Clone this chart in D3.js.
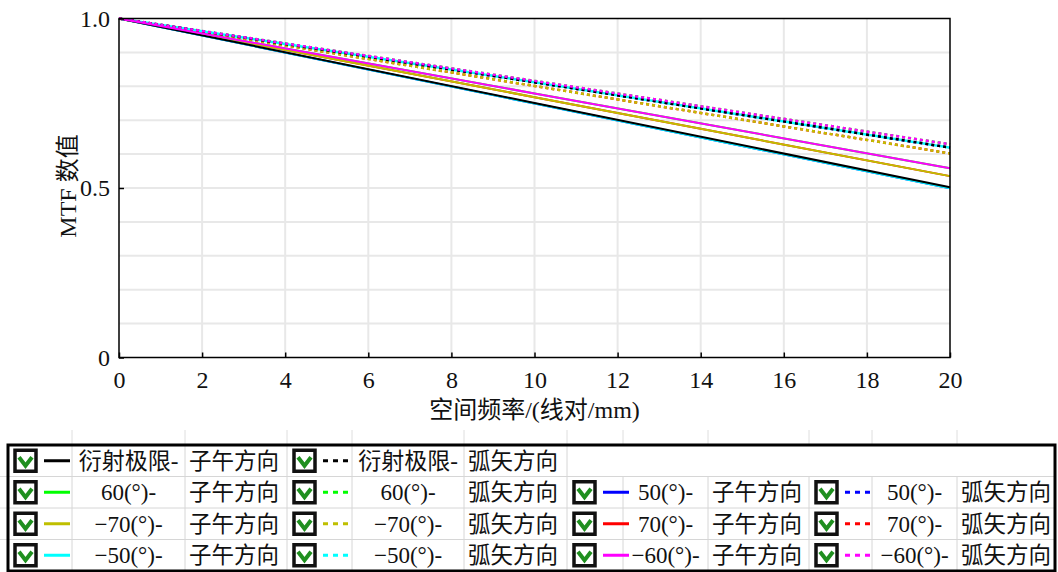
<!DOCTYPE html>
<html>
<head>
<meta charset="utf-8">
<script src="https://cdn.jsdelivr.net/npm/d3@7"></script>
<style>
  body { margin: 0; background: #fff; }
  text { font-family: "Liberation Serif", "Noto Sans CJK SC", serif; fill: #111; }
</style>
</head>
<body>
<div id="chart"></div>
<script>
// spatial frequency samples (lp/mm)
const freqs = [0, 10, 20];

// MTF values per field / direction
const diffT = [1.0, 0.751, 0.502];
const diffS = [1.0, 0.812, 0.619];
const p60T = [1.0, 0.779, 0.558];
const p60S = [1.0, 0.816, 0.629];
const p50T = [1.0, 0.749, 0.499];
const p50S = [1.0, 0.812, 0.619];
const p70T = [1.0, 0.768, 0.535];
const p70S = [1.0, 0.801, 0.602];
const m70T = [1.0, 0.768, 0.535];
const m70S = [1.0, 0.801, 0.602];
const m50T = [1.0, 0.749, 0.499];
const m50S = [1.0, 0.812, 0.619];
const m60T = [1.0, 0.779, 0.558];
const m60S = [1.0, 0.816, 0.629];

const xTicks = [0, 2, 4, 6, 8, 10, 12, 14, 16, 18, 20];
const yTicks = [0, 0.5, 1.0];

const series = [
    { key: "diffT", label: "衍射极限-", dir: "子午方向", color: "#000000", dotted: false, values: diffT },
    { key: "diffS", label: "衍射极限-", dir: "弧矢方向", color: "#000000", dotted: true, values: diffS },
    { key: "p60T", label: "60(°)-", dir: "子午方向", color: "#00ff00", dotted: false, values: p60T },
    { key: "p60S", label: "60(°)-", dir: "弧矢方向", color: "#00ff00", dotted: true, values: p60S },
    { key: "p50T", label: "50(°)-", dir: "子午方向", color: "#0000ff", dotted: false, values: p50T },
    { key: "p50S", label: "50(°)-", dir: "弧矢方向", color: "#0000ff", dotted: true, values: p50S },
    { key: "m70T", label: "−70(°)-", dir: "子午方向", color: "#bfbf00", dotted: false, values: m70T },
    { key: "m70S", label: "−70(°)-", dir: "弧矢方向", color: "#bfbf00", dotted: true, values: m70S },
    { key: "p70T", label: "70(°)-", dir: "子午方向", color: "#ff0000", dotted: false, values: p70T },
    { key: "p70S", label: "70(°)-", dir: "弧矢方向", color: "#ff0000", dotted: true, values: p70S },
    { key: "m50T", label: "−50(°)-", dir: "子午方向", color: "#00ffff", dotted: false, values: m50T },
    { key: "m50S", label: "−50(°)-", dir: "弧矢方向", color: "#00ffff", dotted: true, values: m50S },
    { key: "m60T", label: "−60(°)-", dir: "子午方向", color: "#ff00ff", dotted: false, values: m60T },
    { key: "m60S", label: "−60(°)-", dir: "弧矢方向", color: "#ff00ff", dotted: true, values: m60S }
];
const byKey = Object.fromEntries(series.map(s => [s.key, s]));

// order the lines are painted (last on top)
const drawOrder = ["p60T", "p60S", "p50T", "p50S", "p70T", "p70S",
    "m70T", "m70S", "m50T", "m50S", "diffT", "diffS", "m60T", "m60S"];

// legend table layout: rows of groups
const legendRows = [
    ["diffT", "diffS"],
    ["p60T", "p60S", "p50T", "p50S"],
    ["m70T", "m70S", "p70T", "p70S"],
    ["m50T", "m50S", "m60T", "m60S"]
];

const W = 1058, H = 572;
const margin = { top: 18.5, left: 119, right: 108, bottom: 214.5 };
const width = W - margin.left - margin.right;
const height = H - margin.top - margin.bottom;

const svg = d3.select("#chart")
    .append("svg")
    .attr("width", W)
    .attr("height", H);

const g = svg.append("g")
    .attr("transform", `translate(${margin.left},${margin.top})`);

const x = d3.scaleLinear().domain([0, 20]).range([0, width]);
const y = d3.scaleLinear().domain([0, 1]).range([height, 0]);

// grid
g.append("g")
    .selectAll("line")
    .data(d3.range(1, 10).map(i => i / 10))
    .enter()
    .append("line")
    .attr("x1", 0).attr("x2", width)
    .attr("y1", d => y(d)).attr("y2", d => y(d))
    .attr("stroke", "#e8e8e8").attr("stroke-width", 2);

g.append("g")
    .selectAll("line")
    .data(xTicks.slice(1, -1))
    .enter()
    .append("line")
    .attr("y1", 0).attr("y2", height)
    .attr("x1", d => x(d)).attr("x2", d => x(d))
    .attr("stroke", "#e8e8e8").attr("stroke-width", 2);

// curves
const line = d3.line()
    .x((d, i) => x(freqs[i]))
    .y(d => y(d));

g.append("g")
    .selectAll("path")
    .data(drawOrder.map(k => byKey[k]))
    .enter()
    .append("path")
    .attr("d", d => line(d.values))
    .attr("fill", "none")
    .attr("stroke", d => d.color)
    .attr("stroke-width", d => d.dotted ? 2.5 : 2)
    .attr("stroke-dasharray", d => d.dotted ? "3,3" : null)
    .attr("stroke-dashoffset", d => d.key === "m50S" ? 3 : 0);

// frame
g.append("rect")
    .attr("width", width).attr("height", height)
    .attr("fill", "none").attr("stroke", "#000").attr("stroke-width", 1.5);

// axes (inward ticks)
const xAxis = g.append("g")
    .attr("transform", `translate(0,${height})`)
    .call(d3.axisBottom(x).tickValues(xTicks).tickSize(-5).tickPadding(13).tickFormat(d3.format("d")));
xAxis.select(".domain").remove();
xAxis.selectAll("line").attr("stroke", "#000").attr("stroke-width", 1.5);
xAxis.selectAll("text").style("font-size", "24px").style("font-family", "Liberation Serif");

const yAxis = g.append("g")
    .call(d3.axisLeft(y).tickValues(yTicks).tickSize(-5).tickPadding(9)
        .tickFormat(d => d === 0 ? "0" : d3.format(".1f")(d)));
yAxis.select(".domain").remove();
yAxis.selectAll("line").attr("stroke", "#000").attr("stroke-width", 1.5);
yAxis.selectAll("text").style("font-size", "24px").style("font-family", "Liberation Serif");

svg.append("text")
    .attr("x", margin.left + width / 2)
    .attr("y", 418)
    .attr("text-anchor", "middle")
    .style("font-size", "24px")
    .text("空间频率/(线对/mm)");

svg.append("text")
    .attr("transform", "rotate(-90)")
    .attr("x", -186)
    .attr("y", 76)
    .attr("text-anchor", "middle")
    .style("font-size", "24px")
    .text("MTF 数值");

// legend table
const cols = [8, 72, 185, 287, 352, 464, 567, 623, 708, 809, 872, 957, 1055];
const rowsY = [445, 476.5, 508, 539.5, 571];
const leg = svg.append("g");

// faint sheet grid around the table
cols.slice(1, -1).forEach(cx => {
    leg.append("line").attr("x1", cx).attr("x2", cx).attr("y1", 430).attr("y2", rowsY[0])
        .attr("stroke", "#dedede").attr("stroke-width", 1);
});
rowsY.slice(1, -1).forEach(ry => {
    leg.append("line").attr("x1", 0).attr("x2", cols[0]).attr("y1", ry).attr("y2", ry)
        .attr("stroke", "#dedede").attr("stroke-width", 1);
});

// inner cell borders
legendRows.forEach((row, r) => {
    const y0 = rowsY[r], y1 = rowsY[r + 1];
    const nCols = row.length * 3;
    for (let c = 1; c <= nCols && c < cols.length - 1; c++) {
        leg.append("line").attr("x1", cols[c]).attr("x2", cols[c]).attr("y1", y0).attr("y2", y1)
            .attr("stroke", "#d6d6d6").attr("stroke-width", 1);
    }
    if (r > 0) {
        leg.append("line").attr("x1", cols[0]).attr("x2", cols[cols.length - 1]).attr("y1", y0).attr("y2", y0)
            .attr("stroke", "#d6d6d6").attr("stroke-width", 1);
    }
});

legendRows.forEach((row, r) => {
    const cy = (rowsY[r] + rowsY[r + 1]) / 2;
    row.forEach((k, gi) => {
        const s = byKey[k];
        const c0 = cols[gi * 3], c1 = cols[gi * 3 + 1], c2 = cols[gi * 3 + 2];
        const cell = leg.append("g");
        // checkbox
        const bx = c0 + 7, by = cy - 10.5;
        cell.append("rect").attr("x", bx).attr("y", by).attr("width", 21).attr("height", 21)
            .attr("fill", "#fff").attr("stroke", "#111").attr("stroke-width", 3.5);
        cell.append("path")
            .attr("d", `M${bx + 4},${by + 7} L${bx + 10.5},${by + 15.5} L${bx + 17},${by + 7}`)
            .attr("fill", "none").attr("stroke", "#1f8f1f").attr("stroke-width", 4);
        // line sample
        cell.append("line")
            .attr("x1", bx + 29).attr("x2", bx + 55).attr("y1", cy).attr("y2", cy)
            .attr("stroke", s.color).attr("stroke-width", 3)
            .attr("stroke-dasharray", s.dotted ? "5,5" : null);
        cell.append("text")
            .attr("x", (c1 + c2) / 2).attr("y", cy + 8)
            .attr("text-anchor", "middle")
            .style("font-size", "23px")
            .text(s.label);
        cell.append("text")
            .attr("x", c2 + 4).attr("y", cy + 8)
            .style("font-size", "22.5px")
            .text(s.dir);
    });
});

// outer border
leg.append("rect")
    .attr("x", cols[0]).attr("y", rowsY[0])
    .attr("width", cols[cols.length - 1] - cols[0]).attr("height", rowsY[4] - rowsY[0])
    .attr("fill", "none").attr("stroke", "#000").attr("stroke-width", 3);
</script>
</body>
</html>
